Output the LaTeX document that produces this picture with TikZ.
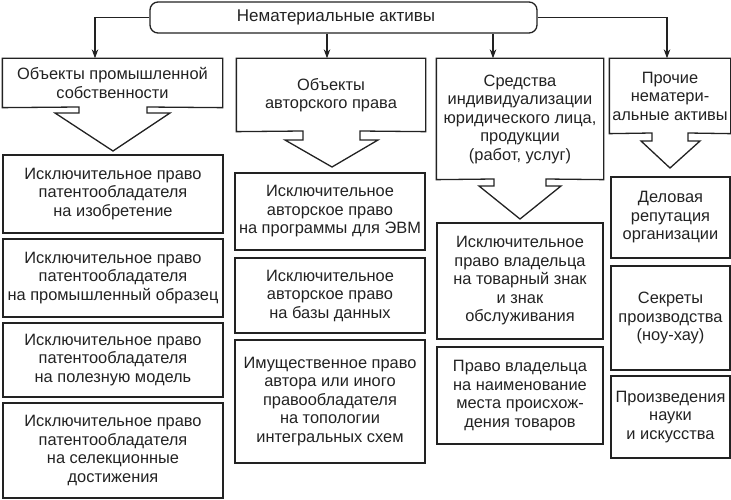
\documentclass[tikz,border=0pt]{standalone}
\usepackage{fontspec}
\setmainfont{Liberation Sans}
\usetikzlibrary{arrows.meta}
\definecolor{ink}{HTML}{222222}
\begin{document}
\begin{tikzpicture}[x=1pt,y=-1pt,line width=1.3pt,
  txt/.style={align=center,inner sep=1pt,text=ink,font=\fontsize{16.4}{18.5}\selectfont},
  box/.style={txt,draw=ink,line width=1.3pt},
  topbox/.style={box,rounded corners=8pt,minimum width=387,minimum height=31,font=\fontsize{17}{19}\selectfont},
  arr/.style={draw=ink,-{Stealth[length=9pt,width=6.5pt]}},
  outline/.style={draw=ink,line width=1.3pt,line join=miter}]
\useasboundingbox (0,0) rectangle (731,500);
% top
\node[topbox] (top) at (343.5,17.5) {Нематериальные активы\hspace*{15pt}};
% row 1 (text nodes; outlines drawn below)
\node[txt,minimum width=219,minimum height=48] (A) at (112.5,83) {Объекты промышленной\\собственности};
\node[txt,minimum width=188,minimum height=72] (B) at (331,95) {Объекты\\авторского права};
\node[txt,minimum width=166,minimum height=120] (C) at (520,119) {Средства\\индивидуализации\\юридического лица,\\продукции\\(работ, услуг)};
\node[txt,minimum width=120,minimum height=74] (D) at (670,96) {Прочие\\нематери-\\альные активы};
\draw[outline] (A.north west) -- (A.north east) -- (A.south east) -- (147,107) -- (147,113) -- (170,113) -- (113,151) -- (55,113) -- (79,113) -- (79,107) -- (A.south west) -- cycle;
\draw[outline] (B.north west) -- (B.north east) -- (B.south east) -- (360,131) -- (360,140) -- (378,140) -- (332,167) -- (285,140) -- (303,140) -- (303,131) -- (B.south west) -- cycle;
\draw[outline] (C.north west) -- (C.north east) -- (C.south east) -- (546,179) -- (546,186) -- (561,186) -- (520,219) -- (479,186) -- (494,186) -- (494,179) -- (C.south west) -- cycle;
\draw[outline] (D.north west) -- (D.north east) -- (D.south east) -- (688,133) -- (688,141) -- (700,141) -- (670,168) -- (641,141) -- (652,141) -- (652,133) -- (D.south west) -- cycle;
% connectors
\draw[arr] (top.west) -| ([xshift=-17.5pt]A.north);
\draw[arr] (top.south -| 327,0) -- (327,0 |- B.north);
\draw[arr] (top.south -| 493,0) -- (493,0 |- C.north);
\draw[arr] (top.east) -| ([xshift=-3pt]D.north);
% column A
\node[box,minimum width=220,minimum height=78] (A1) at (113,194) {Исключительное право\\патентообладателя\\на изобретение};
\node[box,minimum width=220,minimum height=78] (A2) at (113,278) {Исключительное право\\патентообладателя\\на промышленный образец};
\node[box,minimum width=220,minimum height=74] (A3) at (113,360) {Исключительное право\\патентообладателя\\на полезную модель};
\node[box,minimum width=220,minimum height=95] (A4) at (113,450.5) {Исключительное право\\патентообладателя\\на селекционные\\достижения};
% column B
\node[box,minimum width=190,minimum height=77] (B1) at (330,211.5) {Исключительное\\авторское право\\на программы для ЭВМ};
\node[box,minimum width=190,minimum height=75] (B2) at (330,295.5) {Исключительное\\авторское право\\на базы данных};
\node[box,minimum width=190,minimum height=123] (B3) at (330,401.5) {Имущественное право\\автора или иного\\правообладателя\\на топологии\\интегральных схем};
% column C
\node[box,minimum width=166,minimum height=116] (C1) at (520,281) {Исключительное\\право владельца\\на товарный знак\\и знак\\обслуживания};
\node[box,minimum width=166,minimum height=97] (C2) at (520,395.5) {Право владельца\\на наименование\\места происхож-\\дения товаров};
% column D
\node[box,minimum width=119,minimum height=81] (D1) at (670.5,217.5) {Деловая\\репутация\\организации};
\node[box,minimum width=119,minimum height=104] (D2) at (670.5,318) {Секреты\\производства\\(ноу-хау)};
\node[box,minimum width=119,minimum height=82] (D3) at (670.5,417) {Произведения\\науки\\и искусства};
\end{tikzpicture}
\end{document}
